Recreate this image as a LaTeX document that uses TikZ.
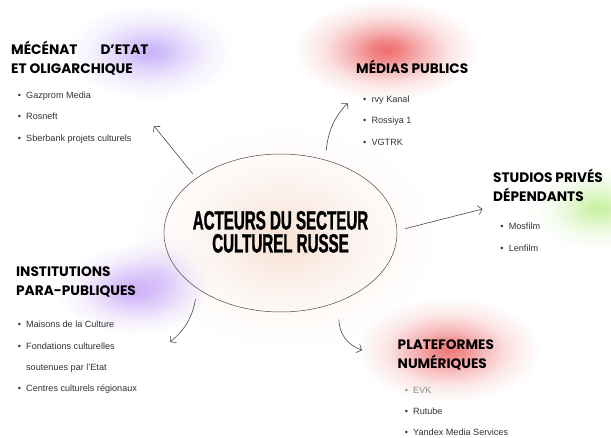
\documentclass[tikz,border=0pt]{standalone}
\usepackage{fontspec}
\setmainfont{Liberation Sans}
\newfontfamily\headfont{Poppins}
\newfontfamily\titlefont{Liberation Sans}[FakeStretch=0.57,BoldFont={Liberation Sans Bold},BoldFeatures={FakeBold=1.2}]
\usetikzlibrary{arrows.meta,shapes.geometric,fadings,bending,calc}

\definecolor{inkgray}{HTML}{4A4A4A}
\definecolor{txtgray}{HTML}{333333}
\definecolor{mutedgray}{HTML}{8C8C8C}
\definecolor{glowred}{HTML}{EF6E6E}
\definecolor{glowrose}{HTML}{F07A7A}
\definecolor{glowviolet}{HTML}{C9B4FA}
\definecolor{glowlilac}{HTML}{CDAEF8}
\definecolor{glowlime}{HTML}{C8F2A2}
\definecolor{glowpeach}{HTML}{F8E2D6}

% soft radial fall-off used for the coloured halos
% (a fitted fading maps the path's bounding box onto the inner 25bp radius)
\pgfdeclareradialshading{softglow}{\pgfpoint{0bp}{0bp}}{%
  color(0bp)=(white); color(4bp)=(white!85!black); color(10bp)=(white!50!black);
  color(17bp)=(white!18!black); color(25bp)=(black); color(50bp)=(black)}
\pgfdeclarefading{softglow}{\pgfuseshading{softglow}}

\newcommand\bulletmark{\llap{\textbullet\hspace{5.2pt}}}

\begin{document}
\begin{tikzpicture}[x=1pt,y=-1pt,
  glow/.style={path fading=softglow},
  headline/.style={anchor=base west,inner sep=0pt,text=black,
    font=\headfont\bfseries\fontsize{13.7}{13.7}\selectfont},
  itemlist/.style={anchor=base west,inner sep=0pt,align=left,text=txtgray,
    font=\fontsize{9.1}{21.5}\selectfont},
  titleline/.style={anchor=base,inner sep=0pt,
    font=\titlefont\bfseries\fontsize{26.5}{26.5}\selectfont},
  link/.style={draw=inkgray,line width=0.6pt,
    -{Straight Barb[length=4pt,width=9pt,bend]}},
]
\useasboundingbox (0,0) rectangle (611,438);
\fill[white] (0,0) rectangle (611,438);

% halos
\fill[glowpeach,glow] (285,238) ellipse (150 and 110);
\fill[glowviolet!50,glow] (160,280) ellipse (50 and 50);
\fill[glowviolet,glow] (150,52) ellipse (85 and 48);
\fill[glowred,glow] (386,50) ellipse (92 and 50);
\fill[glowlime,glow] (598,208) ellipse (68 and 42);
\fill[glowlilac,glow] (132,290) ellipse (75 and 45);
\fill[glowrose,glow] (448,350) ellipse (92 and 52);

% central topic
\node[ellipse,draw=inkgray,line width=0.5pt,minimum width=233pt,minimum height=158pt,
      inner sep=0pt] (hub) at (280.5,233) {};
\node[titleline] (title1) at (280.5,229.5) {ACTEURS DU SECTEUR};
\node[titleline] (title2) at (280.5,252.5) {CULTUREL RUSSE};

% branch headings
\node[headline] (h1a) at (11,55) {MÉCÉNAT\hspace{23pt}D’ETAT};
\node[headline] (h1b) at (11,73.5) {ET OLIGARCHIQUE};
\node[headline] (h2a) at (356,73.5) {MÉDIAS PUBLICS};
\node[headline] (h3a) at (493,183) {STUDIOS PRIVÉS};
\node[headline] (h3b) at (493,202) {DÉPENDANTS};
\node[headline] (h4a) at (16,277) {INSTITUTIONS};
\node[headline] (h4b) at (16,296) {PARA-PUBLIQUES};
\node[headline] (h5a) at (397.5,350) {PLATEFORMES};
\node[headline] (h5b) at (397.5,368.5) {NUMÉRIQUES};

% branch items (each node is placed by the baseline of its last line)
\node[itemlist] (l1) at (26,141.3)
  {\bulletmark Gazprom Media\\\bulletmark Rosneft\\\bulletmark Sberbank projets culturels};
\node[itemlist] (l2) at (371.4,145.3)
  {\bulletmark rvy Kanal\\\bulletmark Rossiya 1\\\bulletmark VGTRK};
\node[itemlist] (l3) at (508.6,251.3)
  {\bulletmark Mosfilm\\\bulletmark Lenfilm};
\node[itemlist] (l4) at (26,392)
  {\bulletmark Maisons de la Culture\\\bulletmark Fondations culturelles\\soutenues par l’Etat\\\bulletmark Centres culturels régionaux};
\node[itemlist] (l5) at (413,436)
  {{\color{mutedgray}\bulletmark EVK}\\\bulletmark Rutube\\\bulletmark Yandex Media Services};

% arrow tips
\coordinate (t1) at (154,126);
\coordinate (t2) at (347.5,103);
\coordinate (t3) at (482.5,209);
\coordinate (t4) at (170,342);
\coordinate (t5) at (362,350);

% connectors, each leaving a little outside the ellipse
\draw[link] ($(hub.center)!1.06!(hub.146)$) -- (t1);
\draw[link] ($(hub.center)!1.11!(hub.61.6)$) to[bend left=18] (t2);
\draw[link] ($(hub.center)!1.07!(hub.2.3)$) -- (t3);
\draw[link] ($(hub.center)!1.11!(hub.218.7)$) to[bend left=20] (t4);
\draw[link] ($(hub.center)!1.2!(hub.304.7)$) to[bend right=35] (t5);
\end{tikzpicture}
\end{document}
